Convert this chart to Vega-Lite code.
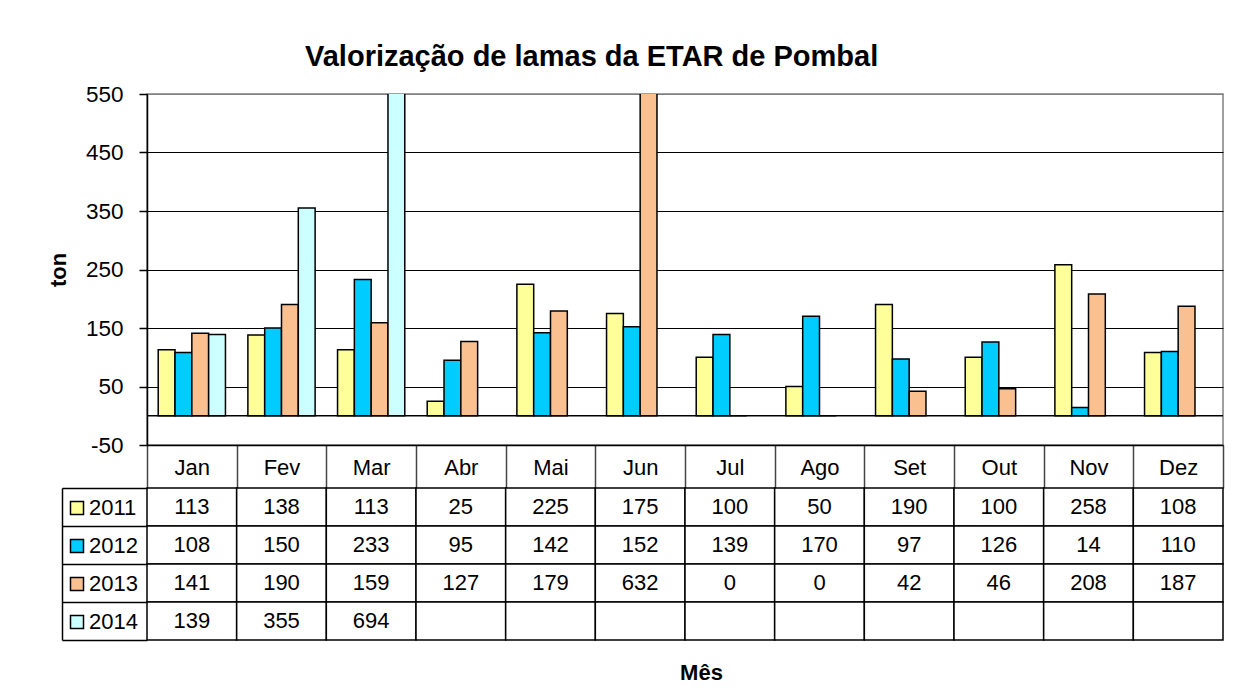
{
  "$schema": "https://vega.github.io/schema/vega-lite/v6.json",
  "background": "white",
  "padding": {"left": 46, "top": 43, "right": 15, "bottom": 10},
  "config": {
    "font": "Liberation Sans",
    "view": {"stroke": null},
    "axis": {"labelFont": "Liberation Sans", "titleFont": "Liberation Sans", "labelColor": "black", "titleColor": "black"},
    "legend": {"labelFont": "Liberation Sans"}
  },
  "title": {"text": "Valorização de lamas da ETAR de Pombal", "fontSize": 29, "fontWeight": "bold", "font": "Liberation Sans", "color": "black", "anchor": "middle", "offset": 10, "dx": -44},
  "datasets": {
    "tab": [
      {"month": "Jan", "series": "2011", "value": 113}, {"month": "Jan", "series": "2012", "value": 108}, {"month": "Jan", "series": "2013", "value": 141}, {"month": "Jan", "series": "2014", "value": 139},
      {"month": "Fev", "series": "2011", "value": 138}, {"month": "Fev", "series": "2012", "value": 150}, {"month": "Fev", "series": "2013", "value": 190}, {"month": "Fev", "series": "2014", "value": 355},
      {"month": "Mar", "series": "2011", "value": 113}, {"month": "Mar", "series": "2012", "value": 233}, {"month": "Mar", "series": "2013", "value": 159}, {"month": "Mar", "series": "2014", "value": 694},
      {"month": "Abr", "series": "2011", "value": 25}, {"month": "Abr", "series": "2012", "value": 95}, {"month": "Abr", "series": "2013", "value": 127}, {"month": "Abr", "series": "2014", "value": null},
      {"month": "Mai", "series": "2011", "value": 225}, {"month": "Mai", "series": "2012", "value": 142}, {"month": "Mai", "series": "2013", "value": 179}, {"month": "Mai", "series": "2014", "value": null},
      {"month": "Jun", "series": "2011", "value": 175}, {"month": "Jun", "series": "2012", "value": 152}, {"month": "Jun", "series": "2013", "value": 632}, {"month": "Jun", "series": "2014", "value": null},
      {"month": "Jul", "series": "2011", "value": 100}, {"month": "Jul", "series": "2012", "value": 139}, {"month": "Jul", "series": "2013", "value": 0}, {"month": "Jul", "series": "2014", "value": null},
      {"month": "Ago", "series": "2011", "value": 50}, {"month": "Ago", "series": "2012", "value": 170}, {"month": "Ago", "series": "2013", "value": 0}, {"month": "Ago", "series": "2014", "value": null},
      {"month": "Set", "series": "2011", "value": 190}, {"month": "Set", "series": "2012", "value": 97}, {"month": "Set", "series": "2013", "value": 42}, {"month": "Set", "series": "2014", "value": null},
      {"month": "Out", "series": "2011", "value": 100}, {"month": "Out", "series": "2012", "value": 126}, {"month": "Out", "series": "2013", "value": 46}, {"month": "Out", "series": "2014", "value": null},
      {"month": "Nov", "series": "2011", "value": 258}, {"month": "Nov", "series": "2012", "value": 14}, {"month": "Nov", "series": "2013", "value": 208}, {"month": "Nov", "series": "2014", "value": null},
      {"month": "Dez", "series": "2011", "value": 108}, {"month": "Dez", "series": "2012", "value": 110}, {"month": "Dez", "series": "2013", "value": 187}, {"month": "Dez", "series": "2014", "value": null}
    ]
  },
  "spacing": 43,
  "bounds": "flush",
  "resolve": {
    "scale": {"x": "independent", "y": "independent", "fill": "independent"},
    "legend": {"fill": "independent"}
  },
  "vconcat": [
    {
      "width": 1076,
      "height": 351,
      "view": {"stroke": "#808080", "strokeWidth": 1.5},
      "layer": [
        {
          "data": {"name": "tab"},
          "transform": [{"filter": "isValid(datum.value)"}],
          "mark": {"type": "bar", "stroke": "black", "strokeWidth": 1.5, "clip": true},
          "encoding": {
            "x": {
              "field": "month", "type": "nominal",
              "sort": ["Jan", "Fev", "Mar", "Abr", "Mai", "Jun", "Jul", "Ago", "Set", "Out", "Nov", "Dez"],
              "scale": {"paddingInner": 0, "paddingOuter": 0},
              "axis": {
                "title": null, "labelAngle": 0, "labelFontSize": 22, "labelBaseline": "middle", "labelPadding": -21,
                "tickBand": "extent", "tickSize": 43, "tickColor": "#444", "tickWidth": 1.5,
                "domainColor": "black", "domainWidth": 1.5, "grid": false
              }
            },
            "xOffset": {
              "field": "series", "type": "nominal", "sort": ["2011", "2012", "2013", "2014"],
              "scale": {"paddingInner": 0, "paddingOuter": 0.667}
            },
            "y": {
              "field": "value", "type": "quantitative",
              "scale": {"domain": [-50, 550], "nice": false, "zero": false},
              "axis": {
                "title": "ton", "titleFontSize": 22, "titleFontWeight": "bold", "titlePadding": 15,
                "values": [-50, 50, 150, 250, 350, 450, 550],
                "labelExpr": "toString(datum.value)",
                "labelFontSize": 22.5, "labelPadding": 16, "tickSize": 8, "tickColor": "black", "tickWidth": 1.5,
                "domainColor": "black", "domainWidth": 1.5,
                "grid": true, "gridWidth": 1.2,
                "gridColor": {"condition": {"test": "datum.value === 550", "value": "#808080"}, "value": "black"}
              }
            },
            "y2": {"datum": 0},
            "fill": {
              "field": "series", "type": "nominal",
              "scale": {"domain": ["2011", "2012", "2013", "2014"], "range": ["#FFFF99", "#00CCFF", "#FAC090", "#CCFFFF"]},
              "legend": null
            }
          }
        },
        {
          "data": {"values": [{}]},
          "mark": {"type": "rule", "color": "black", "strokeWidth": 1.5},
          "encoding": {"y": {"datum": 0}}
        }
      ]
    },
    {
      "width": 1076,
      "height": 152,
      "data": {"name": "tab"},
      "encoding": {
        "x": {
          "field": "month", "type": "nominal",
          "sort": ["Jan", "Fev", "Mar", "Abr", "Mai", "Jun", "Jul", "Ago", "Set", "Out", "Nov", "Dez"],
          "scale": {"paddingInner": 0, "paddingOuter": 0},
          "axis": {"title": "Mês", "labels": false, "ticks": false, "domain": false, "grid": false, "titleFontSize": 22, "titleFontWeight": "bold", "titlePadding": 22, "titleX": 554}
        },
        "y": {
          "field": "series", "type": "nominal", "sort": ["2011", "2012", "2013", "2014"],
          "scale": {"paddingInner": 0, "paddingOuter": 0},
          "axis": {"title": null, "labels": false, "offset": 85, "tickSize": -85, "tickBand": "extent", "tickColor": "black", "tickWidth": 1.5, "domainColor": "black", "domainWidth": 1.5, "grid": false}
        }
      },
      "layer": [
        {"mark": {"type": "rect", "fill": "white", "stroke": "black", "strokeWidth": 1.5}},
        {
          "transform": [{"filter": "isValid(datum.value)"}],
          "mark": {"type": "text", "fontSize": 22, "color": "black", "font": "Liberation Sans"},
          "encoding": {"text": {"field": "value", "type": "quantitative"}}
        },
        {
          "mark": {"type": "point", "shape": "square", "filled": true, "opacity": 0},
          "encoding": {
            "fill": {
              "field": "series", "type": "nominal",
              "scale": {"domain": ["2011", "2012", "2013", "2014"], "range": ["#FFFF99", "#00CCFF", "#FAC090", "#CCFFFF"]},
              "legend": {
                "orient": "none", "legendX": -81, "legendY": 9, "title": null, "direction": "vertical",
                "symbolType": "square", "symbolSize": 169, "symbolStrokeColor": "black", "symbolStrokeWidth": 1.5, "symbolOpacity": 1,
                "labelFontSize": 22, "labelColor": "black", "labelOffset": 1, "rowPadding": 16, "padding": 0
              }
            }
          }
        }
      ]
    }
  ]
}
